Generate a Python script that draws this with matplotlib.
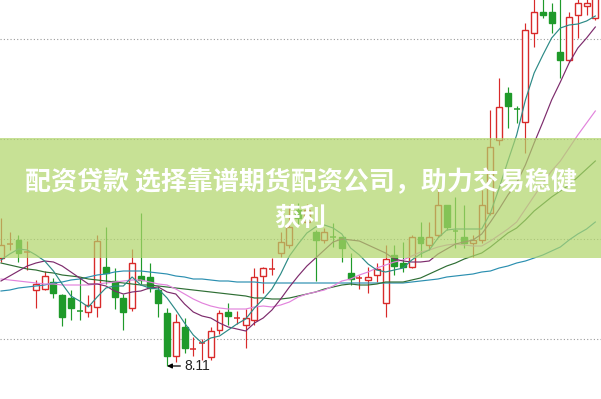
import matplotlib
matplotlib.use("Agg")
import matplotlib.pyplot as plt
import numpy as np

plt.rcParams['font.family'] = ['Noto Sans CJK SC', 'DejaVu Sans']

# daily candles (price)
opens = [9.19, 9.33, 9.37, 9.25, 8.87, 8.88, 8.95, 8.82, 8.79, 8.66,
         8.65, 8.70, 9.10, 8.96, 8.79, 8.69, 9.01, 9.00, 8.87, 8.64,
         8.21, 8.50, 8.28, 8.34, 8.20, 8.47, 8.65, 8.59, 8.52, 8.57,
         9.01, 9.08, 9.24, 9.32, 9.67, 9.55, 9.45, 9.37, 9.40, 9.40,
         9.04, 8.99, 8.97, 9.02, 8.74, 9.22, 9.14, 9.10, 9.40, 9.32,
         9.42, 9.72, 9.46, 9.40, 9.34, 9.37, 9.64, 10.37, 10.84, 10.68,
         10.55, 11.44, 11.65, 11.65, 11.25, 11.17, 11.62, 11.71, 11.59]
highs = [9.59, 9.45, 9.42, 9.36, 8.97, 9.06, 8.99, 8.83, 8.87, 8.99,
         8.82, 9.42, 9.50, 9.09, 8.83, 9.28, 9.64, 9.14, 8.91, 8.69,
         8.63, 8.59, 8.40, 8.38, 8.50, 8.67, 8.74, 8.66, 8.68, 9.09,
         9.10, 9.19, 9.45, 9.72, 9.74, 9.73, 9.47, 9.49, 9.54, 9.40,
         9.24, 9.02, 9.10, 9.14, 9.32, 9.32, 9.35, 9.42, 9.55, 9.55,
         9.89, 9.72, 9.80, 9.72, 9.42, 9.87, 10.67, 10.99, 10.90, 10.71,
         11.54, 11.79, 11.82, 11.74, 11.82, 11.65, 11.80, 11.80, 11.89]
lows = [9.15, 9.27, 9.15, 9.07, 8.69, 8.87, 8.79, 8.51, 8.57, 8.57,
        8.60, 8.60, 8.93, 8.68, 8.47, 8.66, 8.93, 8.85, 8.60, 8.11,
        8.15, 8.24, 8.21, 8.17, 8.17, 8.43, 8.52, 8.53, 8.29, 8.52,
        8.84, 9.02, 9.20, 9.29, 9.52, 9.51, 8.96, 9.34, 9.30, 9.15,
        8.92, 8.88, 8.84, 8.95, 8.60, 9.02, 9.05, 9.09, 9.20, 9.27,
        9.40, 9.47, 9.29, 9.29, 9.20, 9.34, 9.62, 10.32, 10.49, 10.54,
        10.24, 11.30, 11.59, 11.44, 10.99, 11.15, 11.39, 11.62, 11.57]
closes = [9.32, 9.34, 9.24, 9.27, 8.93, 9.01, 8.84, 8.60, 8.69, 8.65,
          8.72, 9.36, 9.04, 8.80, 8.65, 9.14, 8.97, 8.89, 8.74, 8.21,
          8.55, 8.29, 8.30, 8.35, 8.46, 8.64, 8.61, 8.61, 8.59, 9.00,
          9.09, 9.10, 9.35, 9.50, 9.59, 9.67, 9.37, 9.45, 9.38, 9.29,
          8.98, 9.00, 9.00, 9.08, 9.18, 9.11, 9.10, 9.40, 9.34, 9.40,
          9.72, 9.50, 9.45, 9.34, 9.37, 9.72, 10.30, 10.70, 10.71, 10.66,
          11.47, 11.65, 11.62, 11.54, 11.17, 11.60, 11.74, 11.74, 11.82]

# moving average lines as drawn on the chart
ma5 = [9.17, 9.23, 9.28, 9.27, 9.22, 9.16, 9.06, 8.93, 8.81, 8.76,
       8.70, 8.80, 8.89, 8.91, 8.91, 9.00, 8.92, 8.89, 8.88, 8.79,
       8.67, 8.54, 8.42, 8.34, 8.39, 8.41, 8.47, 8.53, 8.58, 8.69,
       8.78, 8.88, 9.03, 9.21, 9.33, 9.44, 9.50, 9.52, 9.49, 9.43,
       9.29, 9.22, 9.13, 9.07, 9.05, 9.07, 9.09, 9.17, 9.23, 9.27,
       9.39, 9.47, 9.48, 9.48, 9.48, 9.48, 9.64, 9.89, 10.16, 10.42,
       10.77, 11.04, 11.22, 11.39, 11.49, 11.52, 11.53, 11.56, 11.61]
ma10 = [8.96, 9.01, 9.06, 9.11, 9.14, 9.16, 9.15, 9.11, 9.05, 8.99,
        8.93, 8.93, 8.91, 8.86, 8.83, 8.85, 8.86, 8.89, 8.90, 8.85,
        8.83, 8.73, 8.65, 8.61, 8.59, 8.54, 8.50, 8.48, 8.46, 8.54,
        8.59, 8.67, 8.78, 8.90, 9.01, 9.11, 9.19, 9.27, 9.35, 9.38,
        9.37, 9.36, 9.32, 9.28, 9.24, 9.18, 9.16, 9.15, 9.15, 9.16,
        9.23, 9.28, 9.33, 9.35, 9.37, 9.43, 9.55, 9.68, 9.82, 9.94,
        10.12, 10.34, 10.55, 10.77, 10.95, 11.14, 11.29, 11.39, 11.50]
ma20 = [8.98, 8.97, 8.96, 8.95, 8.94, 8.93, 8.93, 8.92, 8.92, 8.92,
        8.92, 8.93, 8.94, 8.95, 8.96, 8.97, 8.97, 8.95, 8.93, 8.92,
        8.88, 8.83, 8.78, 8.74, 8.71, 8.69, 8.68, 8.68, 8.68, 8.70,
        8.71, 8.70, 8.72, 8.75, 8.80, 8.83, 8.85, 8.87, 8.91, 8.96,
        8.98, 9.02, 9.05, 9.09, 9.12, 9.15, 9.17, 9.21, 9.25, 9.27,
        9.30, 9.32, 9.33, 9.32, 9.31, 9.31, 9.36, 9.42, 9.48, 9.55,
        9.68, 9.81, 9.94, 10.06, 10.16, 10.29, 10.42, 10.54, 10.66]
ma30 = [9.14, 9.12, 9.10, 9.08, 9.07, 9.05, 9.04, 9.02, 9.01, 9.00,
        8.98, 8.97, 8.96, 8.95, 8.94, 8.93, 8.92, 8.92, 8.91, 8.90,
        8.89, 8.88, 8.87, 8.86, 8.85, 8.84, 8.83, 8.82, 8.81, 8.79,
        8.79, 8.78, 8.78, 8.79, 8.81, 8.83, 8.85, 8.88, 8.90, 8.92,
        8.93, 8.92, 8.92, 8.93, 8.95, 8.95, 8.95, 8.97, 8.99, 9.03,
        9.07, 9.11, 9.14, 9.18, 9.21, 9.24, 9.30, 9.37, 9.44, 9.49,
        9.57, 9.66, 9.73, 9.80, 9.86, 9.92, 10.00, 10.08, 10.16]
ma60 = [8.86, 8.87, 8.89, 8.90, 8.91, 8.92, 8.94, 8.95, 8.97, 8.98,
        9.00, 9.02, 9.03, 9.05, 9.06, 9.06, 9.06, 9.05, 9.04, 9.03,
        9.01, 9.00, 8.98, 8.98, 8.97, 8.96, 8.96, 8.95, 8.95, 8.95,
        8.94, 8.94, 8.94, 8.94, 8.94, 8.94, 8.94, 8.94, 8.94, 8.94,
        8.94, 8.94, 8.94, 8.94, 8.94, 8.94, 8.94, 8.95, 8.96, 8.97,
        8.98, 9.00, 9.01, 9.02, 9.03, 9.05, 9.06, 9.09, 9.11, 9.14,
        9.16, 9.19, 9.22, 9.26, 9.30, 9.37, 9.43, 9.48, 9.55]

grid_levels = [8.38, 9.38, 10.38, 11.38]
low_label = "8.11"
low_idx = 19
title_lines = ["配资贷款 选择靠谱期货配资公司，助力交易稳健", "获利"]

red = '#d82a2a'
green = '#1f9a2a'

fig = plt.figure(figsize=(6.01, 3.99), dpi=100)
ax = fig.add_axes([0, 0, 1, 1])
ax.set_xlim(-0.114, 68.65)
ax.set_ylim(7.78, 11.77)
ax.axis('off')

for lv in grid_levels:
    ax.axhline(lv, color='#9a9a9a', lw=0.8, ls=(0, (1, 2)), zorder=1)

x = np.arange(len(opens))
o = np.array(opens)
c = np.array(closes)
up = c >= o
cols = np.where(up, red, green)

ax.vlines(x, lows, highs, colors=cols, lw=0.85, zorder=2)
w = 0.68
body = np.abs(c - o)
doji = body < 0.025
bx = x[~doji]
ax.bar(bx, body[~doji], bottom=np.minimum(o, c)[~doji], width=w,
       color=np.where(up[~doji], 'white', green),
       edgecolor=cols[~doji], linewidth=1.0, zorder=3)
ax.hlines(o[doji], x[doji] - w / 2, x[doji] + w / 2, colors=cols[doji],
          lw=1.1, zorder=3)

ax.plot(x, ma60, color='#2b8fb0', lw=0.85, zorder=4)
ax.plot(x, ma30, color='#2e6e34', lw=0.85, zorder=4)
ax.plot(x, ma20, color='#e283dc', lw=0.85, zorder=4)
ax.plot(x, ma10, color='#7d2b6c', lw=0.85, zorder=4)
ax.plot(x, ma5, color='#2c8a86', lw=0.85, zorder=4)

ax.annotate(low_label, xy=(low_idx, lows[low_idx]), xytext=(21.0, lows[low_idx]),
            ha='left', va='center', fontsize=10, color='#222222',
            family=['Liberation Sans', 'DejaVu Sans'],
            arrowprops=dict(arrowstyle='-|>', color='black', lw=0.9,
                            mutation_scale=7, shrinkA=1, shrinkB=0),
            zorder=5)

# translucent banner with the headline
ax.axhspan(9.19, 10.39, color='#b0d569', alpha=0.7, lw=0, zorder=6)
ax.text(0.5, 1 - 183 / 399, title_lines[0], transform=ax.transAxes,
        ha='center', va='center', fontsize=18.7, fontweight='bold',
        color='white', zorder=7)
ax.text(0.5, 1 - 218 / 399, title_lines[1], transform=ax.transAxes,
        ha='center', va='center', fontsize=18.7, fontweight='bold',
        color='white', zorder=7)

fig.savefig('out.png', dpi=100)
